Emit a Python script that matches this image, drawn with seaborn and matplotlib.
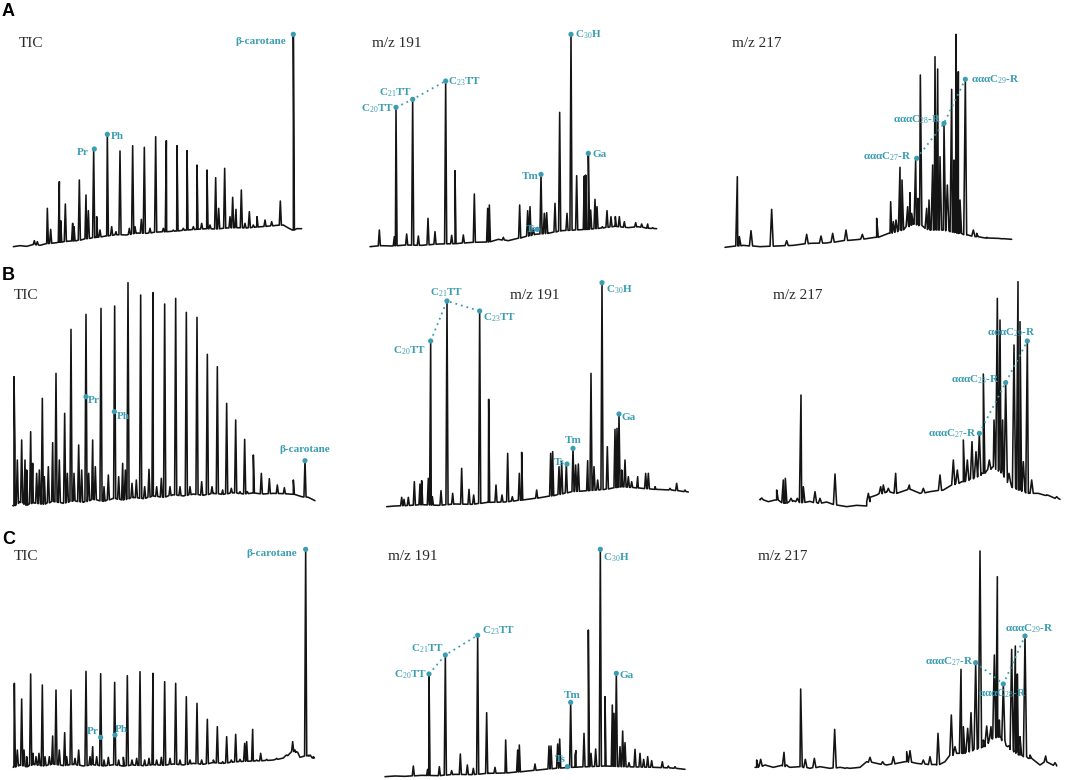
import numpy as np
import matplotlib
matplotlib.use("Agg")
import matplotlib.pyplot as plt
import seaborn as sns

sns.set_style("white")
plt.rcParams["font.family"] = ["Liberation Serif", "DejaVu Serif"]
plt.rcParams["mathtext.fontset"] = "custom"
plt.rcParams["mathtext.rm"] = "Liberation Serif"
plt.rcParams["mathtext.bf"] = "Liberation Serif:bold"
plt.rcParams["mathtext.it"] = "Liberation Serif:italic"

TRACE = "#141414"
TEAL = "#3a9db2"

# ------------------------------------------------------------------ data
# retention (arbitrary units), intensity (arbitrary units)
# ---------- row A
A_TIC_base = [(40,40),(60,43),(80,41),(100,47),(120,44),(140,49),(170,52),(200,56),(230,58),
              (260,64),(290,68),(320,72),(350,76),(380,75),(410,81),(440,80),(470,84),(500,85),
              (530,87),(560,90),(590,92),(620,94),(650,93),(680,96),(710,97),(740,96),(770,99),
              (800,101),(830,104),(850,105),(865,96),(880,90),(890,94),(905,94)]
A_TIC_peaks = [(103,58),(112,55),(142,155),(152,92),(178,235),(182,118),(196,168),(218,110),
               (222,100),(238,240),(258,195),(265,148),(281,330),(290,130),(300,90),(322,380),
               (335,100),(348,85),(360,327),(388,95),(398,343),(405,100),(424,122),(433,338),
               (450,95),(467,370),(490,95),(499,358),(520,90),(531,343),(550,95),(561,328),
               (580,100),(591,285),(605,110),(621,270),(630,105),(647,247),(656,155),(674,275),
               (690,130),(698,188),(708,152),(724,210),(735,110),(748,145),(760,105),(771,130),
               (795,120),(815,115),(841,177),(880,677)]
A_TIC_marks = [("Pr", 283, 333), ("Ph", 322, 377), ("β-carotane", 880, 677)]

A191_base = [(45,40),(80,43),(110,42),(150,45),(200,44),(250,48),(300,49),(350,53),(400,54),
             (430,62),(460,58),(500,67),(540,77),(580,80),(620,88),(660,90),(700,92),(740,96),
             (780,101),(820,97),(850,100),(880,95),(905,94)]
A191_peaks = [(73,90),(118,70),(123,458),(155,78),(173,482),(190,72),(219,125),(240,85),
              (272,537),(290,74),(300,268),(325,75),(358,198),(398,155),(403,165),(445,68),
              (494,165),(518,148),(525,160),(535,94),(558,257),(568,140),(575,142),(600,170),
              (614,443),(636,140),(648,677),(665,253),(688,252),(692,255),(700,320),(707,150),
              (720,182),(726,160),(742,100),(756,148),(768,130),(781,130),(793,130),(808,115),
              (842,112),(860,108),(878,108),(893,97)]
A191_marks = [("C$_{20}$TT", 123, 458), ("C$_{21}$TT", 173, 482), ("C$_{23}$TT", 272, 537),
              ("Ts", 547, 92), ("Tm", 558, 257), ("C$_{30}$H", 648, 677), ("Ga", 700, 320)]

A217_base = [(45,38),(100,44),(150,40),(200,42),(250,44),(300,50),(350,51),(400,58),(450,62),
             (500,68),(540,80),(575,90),(610,110),(640,100),(660,90),(700,90),(740,82),(770,75),
             (800,70),(830,66),(860,65),(905,62)]
A217_peaks = [(82,250),(88,70),(123,88),(185,152),(230,58),(290,77),(333,72),(368,80),(408,90),
              (457,77),(500,125),(542,175),(550,115),(558,120),(570,278),(576,240),(593,160),
              (600,202),(605,140),(617,300),(624,185),(631,555),(650,155),(657,180),(668,285),
              (675,610),(683,573),(690,310),(702,410),(712,225),(725,512),(732,300),(738,677),
              (745,565),(750,180),(766,542),(790,90),(800,80),(830,68),(860,65),(880,64)]
A217_marks = [("αααC$_{27}$-R", 620, 305), ("αααC$_{28}$-R", 702, 410), ("αααC$_{29}$-R", 766, 542)]

# ---------- row B
B_TIC_base = [(40,42),(60,55),(80,45),(100,52),(130,47),(160,56),(190,50),(220,58),(250,53),
              (280,62),(310,56),(340,65),(370,60),(400,68),(430,64),(460,72),(490,68),(520,76),
              (550,72),(580,78),(610,74),(640,80),(670,77),(700,82),(730,78),(760,81),(790,78),
              (820,80),(850,79),(880,77),(905,70),(925,68),(945,58)]
B_TIC_peaks = [(42,430),(45,220),(52,180),(65,240),(75,180),(80,150),(92,265),(98,170),(110,140),
               (118,150),(127,365),(133,130),(145,160),(158,232),(168,440),(178,180),(194,320),
               (202,140),(213,572),(222,140),(236,225),(245,150),(258,617),(266,140),(278,240),
               (286,160),(303,635),(312,100),(325,135),(344,642),(356,130),(368,170),(376,150),
               (384,712),(396,110),(409,120),(422,675),(434,100),(447,152),(459,682),(470,100),
               (484,125),(494,648),(510,100),(527,665),(540,100),(559,623),(570,100),(591,608),
               (605,115),(622,497),(636,100),(652,460),(668,90),(680,350),(694,95),(707,300),
               (720,85),(734,242),(742,85),(760,195),(784,140),(808,124),(832,105),(853,97),
               (880,120),(915,180)]
B_TIC_marks = [("Pr", 258, 370), ("Ph", 343, 325), ("β-carotane", 915, 178)]

B191_base = [(95,40),(120,42),(150,43),(200,46),(250,44),(300,48),(350,47),(400,53),(450,54),
             (500,60),(550,66),(600,74),(650,85),(700,88),(750,92),(800,100),(850,96),(900,92),
             (950,90),(1000,84)]
B191_peaks = [(140,68),(147,62),(160,68),(178,115),(195,108),(200,118),(220,125),(227,537),
              (232,70),(258,88),(276,657),(293,80),(320,155),(342,92),(356,75),(374,627),
              (401,362),(423,105),(441,75),(458,200),(472,70),(493,140),(500,203),(545,90),
              (587,200),(593,205),(612,160),(620,175),(634,168),(654,215),(662,165),(670,168),
              (698,178),(708,440),(717,160),(728,120),(741,712),(757,220),(780,272),(786,275),
              (792,318),(800,150),(810,180),(820,130),(830,115),(848,130),(872,140),(880,140),
              (900,100),(945,95),(965,110),(990,90)]
B191_marks = [("C$_{20}$TT", 227, 537), ("C$_{21}$TT", 276, 657), ("C$_{23}$TT", 374, 627),
              ("Ts", 636, 168), ("Tm", 654, 215), ("C$_{30}$H", 741, 712), ("Ga", 792, 318)]

B217_base = [(150,62),(175,55),(200,60),(225,50),(250,58),(275,52),(300,56),(325,50),(350,54),
             (380,45),(410,40),(440,44),(470,42),(480,68),(500,75),(530,85),(560,80),(600,92),
             (630,80),(660,85),(700,90),(725,105),(760,115),(790,125),(820,140),(850,160),
             (880,140),(905,100),(930,90),(955,80),(980,80),(1010,74),(1050,62)]
B217_peaks = [(155,66),(200,90),(220,120),(226,125),(243,65),(262,65),(273,375),(280,100),
              (315,85),(330,65),(375,138),(475,80),(512,100),(520,105),(535,95),(557,140),
              (598,105),(640,95),(690,135),(730,180),(742,150),(760,240),(772,180),(786,235),
              (798,205),(808,260),(820,438),(838,180),(852,300),(862,665),(870,600),(878,300),
              (887,412),(897,140),(912,525),(924,715),(930,595),(940,175),(952,537),(965,120),
              (980,80),(1010,75),(1040,70)]
B217_marks = [("αααC$_{27}$-R", 808, 260), ("αααC$_{28}$-R", 887, 412), ("αααC$_{29}$-R", 952, 537)]

# ---------- row C
C_TIC_base = [(40,38),(60,45),(80,40),(100,47),(130,42),(160,48),(190,43),(220,47),(250,42),
              (280,46),(310,42),(340,46),(370,42),(400,45),(430,43),(460,46),(490,44),(520,48),
              (550,45),(580,50),(610,47),(640,52),(670,50),(700,54),(730,56),(760,57),(790,58),
              (820,60),(850,66),(870,80),(885,90),(900,68),(925,74),(940,66)]
C_TIC_peaks = [(43,290),(45,145),(52,90),(65,243),(72,90),(80,70),(92,318),(99,80),(108,70),
               (117,80),(127,285),(135,70),(148,70),(158,132),(168,270),(178,90),(194,142),
               (200,70),(213,270),(225,65),(236,90),(258,326),(270,70),(278,100),(290,70),
               (302,319),(312,60),(325,68),(344,293),(356,60),(370,68),(382,313),(396,60),
               (410,65),(420,325),(434,60),(447,65),(459,320),(470,60),(484,68),(494,295),
               (510,65),(527,290),(540,60),(559,250),(570,60),(591,230),(605,60),(622,182),
               (640,60),(652,160),(668,55),(680,130),(694,60),(707,137),(720,62),(734,110),
               (740,115),(758,152),(770,60),(782,80),(800,62),(830,65),(860,75),(878,115),
               (890,85),(917,692),(930,75),(940,70)]
C_TIC_marks = [("Pr", 302, 128), ("Ph", 345, 135), ("β-carotane", 917, 692)]

C191_base = [(90,10),(120,12),(150,11),(200,14),(250,13),(300,17),(350,16),(400,20),(450,21),
             (500,25),(550,30),(600,35),(650,38),(700,40),(750,42),(800,40),(850,39),(900,38),
             (950,36),(990,32)]
C191_peaks = [(175,42),(218,32),(222,318),(253,40),(271,375),(290,28),(316,78),(337,45),(355,35),
              (368,434),(395,202),(420,38),(452,120),(488,90),(493,105),(540,48),(582,102),
              (588,102),(608,108),(614,123),(637,40),(647,233),(660,75),(663,88),(687,140),
              (700,450),(708,80),(722,93),(736,692),(750,250),(772,225),(777,200),(784,320),
              (795,100),(803,147),(810,112),(822,52),(840,92),(855,80),(866,62),(878,70),
              (890,58),(922,55),(940,42),(960,40)]
C191_marks = [("C$_{20}$TT", 222, 318), ("C$_{21}$TT", 271, 375), ("C$_{23}$TT", 368, 434),
              ("Ts", 637, 40), ("Tm", 647, 233), ("C$_{30}$H", 736, 692), ("Ga", 784, 320)]

C217_base = [(140,38),(165,45),(190,38),(215,44),(240,38),(270,40),(300,35),(330,40),(360,35),
             (390,38),(420,35),(450,38),(470,55),(500,50),(530,45),(560,50),(590,55),(620,50),
             (650,47),(680,45),(705,55),(730,80),(760,80),(790,90),(820,100),(845,125),(870,130),
             (900,95),(930,75),(960,65),(990,45),(1010,55),(1040,42)]
C217_peaks = [(140,60),(152,62),(222,83),(230,45),(272,273),(286,62),(313,65),(374,152),(405,35),
              (480,68),(518,55),(550,70),(590,85),(600,88),(640,60),(660,70),(684,140),(724,195),
              (735,100),(753,332),(760,160),(773,155),(783,202),(797,352),(810,687),(820,120),
              (830,162),(843,160),(853,375),(862,610),(868,180),(880,288),(893,100),(905,392),
              (916,402),(922,318),(930,130),(945,432),(960,75),(1007,72),(1035,52)]
C217_marks = [("αααC$_{27}$-R", 797, 352), ("αααC$_{28}$-R", 880, 288), ("αααC$_{29}$-R", 945, 432)]

panel_titles = ["TIC", "m/z 191", "m/z 217"]
row_letters = ["A", "B", "C"]

# ------------------------------------------------------------------ layout
# label text placement: name -> (x, y, ha)
layout = {
    (0, 0): dict(title=(55, 650), marks={"Pr": (265, 322, "right"), "Ph": (333, 370, "left"),
                                          "β-carotane": (858, 655, "right")}),
    (0, 1): dict(title=(50, 650), marks={"C$_{20}$TT": (117, 455, "right"), "C$_{21}$TT": (170, 502, "right"),
                                          "C$_{23}$TT": (280, 535, "left"), "Ts": (545, 92, "right"),
                                          "Tm": (552, 250, "right"), "C$_{30}$H": (660, 677, "left"),
                                          "Ga": (712, 315, "left")},
                 chain=["C$_{20}$TT", "C$_{21}$TT", "C$_{23}$TT"]),
    (0, 2): dict(title=(65, 650), marks={"αααC$_{27}$-R": (605, 310, "right"), "αααC$_{28}$-R": (695, 422, "right"),
                                          "αααC$_{29}$-R": (782, 542, "left")},
                 chain=["αααC$_{27}$-R", "αααC$_{28}$-R", "αααC$_{29}$-R"]),
    (1, 0): dict(title=(40, 672), marks={"Pr": (264, 357, "left"), "Ph": (350, 310, "left"),
                                          "β-carotane": (914, 210, "center")}),
    (1, 1): dict(title=(465, 672), marks={"C$_{20}$TT": (212, 508, "right"), "C$_{21}$TT": (275, 683, "center"),
                                           "C$_{23}$TT": (385, 608, "left"), "Ts": (630, 172, "right"),
                                           "Tm": (655, 237, "center"), "C$_{30}$H": (752, 692, "left"),
                                           "Ga": (800, 307, "left")},
                 chain=["C$_{20}$TT", "C$_{21}$TT", "C$_{23}$TT"]),
    (1, 2): dict(title=(190, 672), marks={"αααC$_{27}$-R": (800, 258, "right"), "αααC$_{28}$-R": (870, 420, "right"),
                                           "αααC$_{29}$-R": (905, 562, "center")},
                 chain=["αααC$_{27}$-R", "αααC$_{28}$-R", "αααC$_{29}$-R"]),
    (2, 0): dict(title=(42, 670), marks={"Pr": (295, 147, "right"), "Ph": (345, 152, "left"),
                                          "β-carotane": (890, 678, "right")}),
    (2, 1): dict(title=(100, 670), marks={"C$_{20}$TT": (215, 315, "right"), "C$_{21}$TT": (268, 395, "right"),
                                           "C$_{23}$TT": (380, 448, "left"), "Ts": (632, 62, "right"),
                                           "Tm": (653, 255, "center"), "C$_{30}$H": (745, 668, "left"),
                                           "Ga": (795, 312, "left")},
                 chain=["C$_{20}$TT", "C$_{21}$TT", "C$_{23}$TT"]),
    (2, 2): dict(title=(145, 670), marks={"αααC$_{27}$-R": (790, 355, "right"), "αααC$_{28}$-R": (876, 258, "center"),
                                           "αααC$_{29}$-R": (958, 455, "center")},
                 chain=["αααC$_{27}$-R", "αααC$_{28}$-R", "αααC$_{29}$-R"]),
}

panels = {
    (0, 0): (A_TIC_base, A_TIC_peaks, A_TIC_marks),
    (0, 1): (A191_base, A191_peaks, A191_marks),
    (0, 2): (A217_base, A217_peaks, A217_marks),
    (1, 0): (B_TIC_base, B_TIC_peaks, B_TIC_marks),
    (1, 1): (B191_base, B191_peaks, B191_marks),
    (1, 2): (B217_base, B217_peaks, B217_marks),
    (2, 0): (C_TIC_base, C_TIC_peaks, C_TIC_marks),
    (2, 1): (C191_base, C191_peaks, C191_marks),
    (2, 2): (C217_base, C217_peaks, C217_marks),
}
peak_halfwidth = [3.2, 3.2, 4.8]   # per column (TIC, m/z 191, m/z 217)


def build_trace(base, peaks, hw):
    bx = np.array([p[0] for p in base], float)
    by = np.array([p[1] for p in base], float)
    verts = [(float(x), float(y)) for x, y in base]
    for px, ph in peaks:
        b = float(np.interp(px, bx, by))
        verts += [(px - hw, b), (float(px), float(ph)), (px + hw, b)]
    verts.sort(key=lambda v: v[0])
    xs = np.array([v[0] for v in verts])
    ys = np.array([v[1] for v in verts])
    return xs, ys


W, H = 1065, 780
fig = plt.figure(figsize=(W / 100, H / 100), dpi=100)
tw, th = 355 / W, 260 / H

for (r, c), (base, peaks, marks) in panels.items():
    ax = fig.add_axes([c * tw, 1 - (r + 1) * th, tw, th])
    ax.set_xlim(0, 1065)
    ax.set_ylim(0, 780)
    ax.axis("off")
    xs, ys = build_trace(base, peaks, peak_halfwidth[c])
    sns.lineplot(x=xs, y=ys, sort=False, estimator=None, ax=ax, color=TRACE, linewidth=1.15)
    lay = layout[(r, c)]
    tx, ty = lay["title"]
    ax.text(tx, ty, panel_titles[c], fontsize=11, color="#2a2a2a", ha="left", va="center",
            family="Liberation Serif")
    mk = {n: (x, y) for n, x, y in marks}
    if "chain" in lay:
        cx = [mk[n][0] for n in lay["chain"]]
        cy = [mk[n][1] for n in lay["chain"]]
        ax.plot(cx, cy, color=TEAL, lw=1.3, ls=(0, (1, 2.2)), zorder=3)
    sns.scatterplot(x=[m[1] for m in marks], y=[m[2] for m in marks], ax=ax, color=TEAL,
                    s=14, edgecolor="none", zorder=4, legend=False)
    for n, (lx, ly, ha) in lay["marks"].items():
        ax.text(lx, ly, n, fontsize=8, color=TEAL, ha=ha, va="center", fontweight="bold",
                family="Liberation Serif", zorder=5)

for i, letter in enumerate(row_letters):
    yc = [11, 275, 540][i]
    fig.text(2 / W, 1 - yc / H, letter, fontsize=13, fontweight="bold", family="Liberation Sans",
             ha="left", va="center", color="black")

fig.savefig("out.png", dpi=100)
